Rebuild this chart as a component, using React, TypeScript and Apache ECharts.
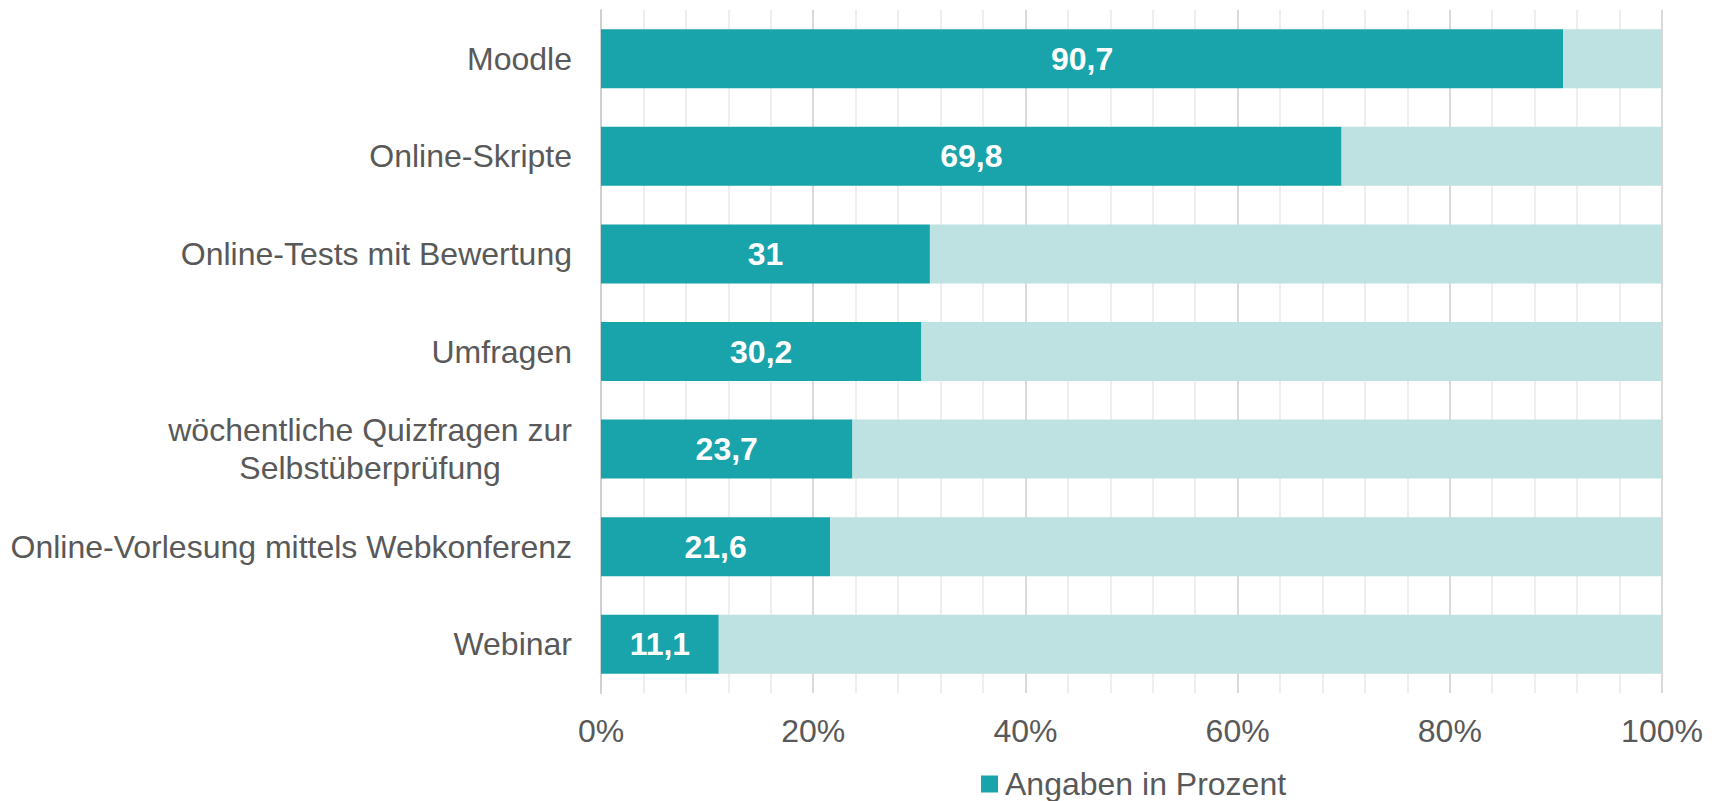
import React, { useEffect, useRef } from "react";
import * as echarts from "echarts";

const categories = [
  "Moodle",
  "Online-Skripte",
  "Online-Tests mit Bewertung",
  "Umfragen",
  "wöchentliche Quizfragen zur\nSelbstüberprüfung",
  "Online-Vorlesung mittels Webkonferenz",
  "Webinar",
];
const values = [90.7, 69.8, 31, 30.2, 23.7, 21.6, 11.1];
const rest = [9.3, 30.2, 69, 69.8, 76.3, 78.4, 88.9];
const xTicks = [0, 20, 40, 60, 80, 100];
const seriesName = "Angaben in Prozent";

const FONT = "'Liberation Sans', Arial, sans-serif";
const DARK = "#19a3aa";
const LIGHT = "#bee1e1";
const TEXT = "#595959";

export default function App() {
  const ref = useRef<HTMLDivElement>(null);
  useEffect(() => {
    if (!ref.current) return;
    const chart = echarts.init(ref.current, null, { renderer: "svg" });
    chart.setOption({
      animation: false,
      backgroundColor: "#ffffff",
      textStyle: { fontFamily: FONT },
      grid: { left: 601, right: 55, top: 10, bottom: 108, containLabel: false },
      legend: {
        data: [seriesName],
        left: 976,
        top: 763,
        padding: 5,
        itemWidth: 17,
        itemHeight: 17,
        itemGap: 20,
        icon: "rect",
        textStyle: { fontSize: 32, color: TEXT, fontFamily: FONT, padding: [0, 0, 0, 2] },
      },
      xAxis: {
        type: "value",
        min: 0,
        max: 100,
        interval: 20,
        axisLine: { show: false },
        axisTick: { show: false },
        axisLabel: {
          fontSize: 32,
          color: TEXT,
          fontFamily: FONT,
          margin: 22,
          formatter: (v: number) => (xTicks.includes(v) ? `${v}%` : ""),
        },
        splitLine: { show: true, lineStyle: { color: "#d9d9d9", width: 2 } },
        minorTick: { show: false, splitNumber: 5 },
        minorSplitLine: { show: true, lineStyle: { color: "#eeeeee", width: 2 } },
      },
      yAxis: {
        type: "category",
        data: categories,
        inverse: true,
        axisTick: { show: false },
        axisLine: { show: true, lineStyle: { color: "#d0d0d0", width: 2 } },
        axisLabel: {
          margin: 29,
          color: TEXT,
          fontSize: 32,
          fontFamily: FONT,
          formatter: (v: string) => v.split("\n").map((s) => `{c|${s}}`).join("\n"),
          rich: {
            c: { align: "center", fontSize: 32, color: TEXT, fontFamily: FONT, lineHeight: 38 },
          },
        },
      },
      series: [
        {
          name: seriesName,
          type: "bar",
          stack: "total",
          data: values,
          barWidth: 59,
          itemStyle: { color: DARK },
          label: {
            show: true,
            position: "inside",
            color: "#ffffff",
            fontWeight: "bold",
            fontSize: 32,
            fontFamily: FONT,
            formatter: (p: any) => String(p.value).replace(".", ","),
          },
        },
        {
          name: "Rest",
          type: "bar",
          stack: "total",
          data: rest,
          barWidth: 59,
          itemStyle: { color: LIGHT },
          label: { show: false },
        },
      ],
    });
    return () => chart.dispose();
  }, []);
  return (
    <div
      ref={ref}
      style={{ position: "fixed", left: 0, top: 0, width: 1717, height: 801 }}
    />
  );
}
